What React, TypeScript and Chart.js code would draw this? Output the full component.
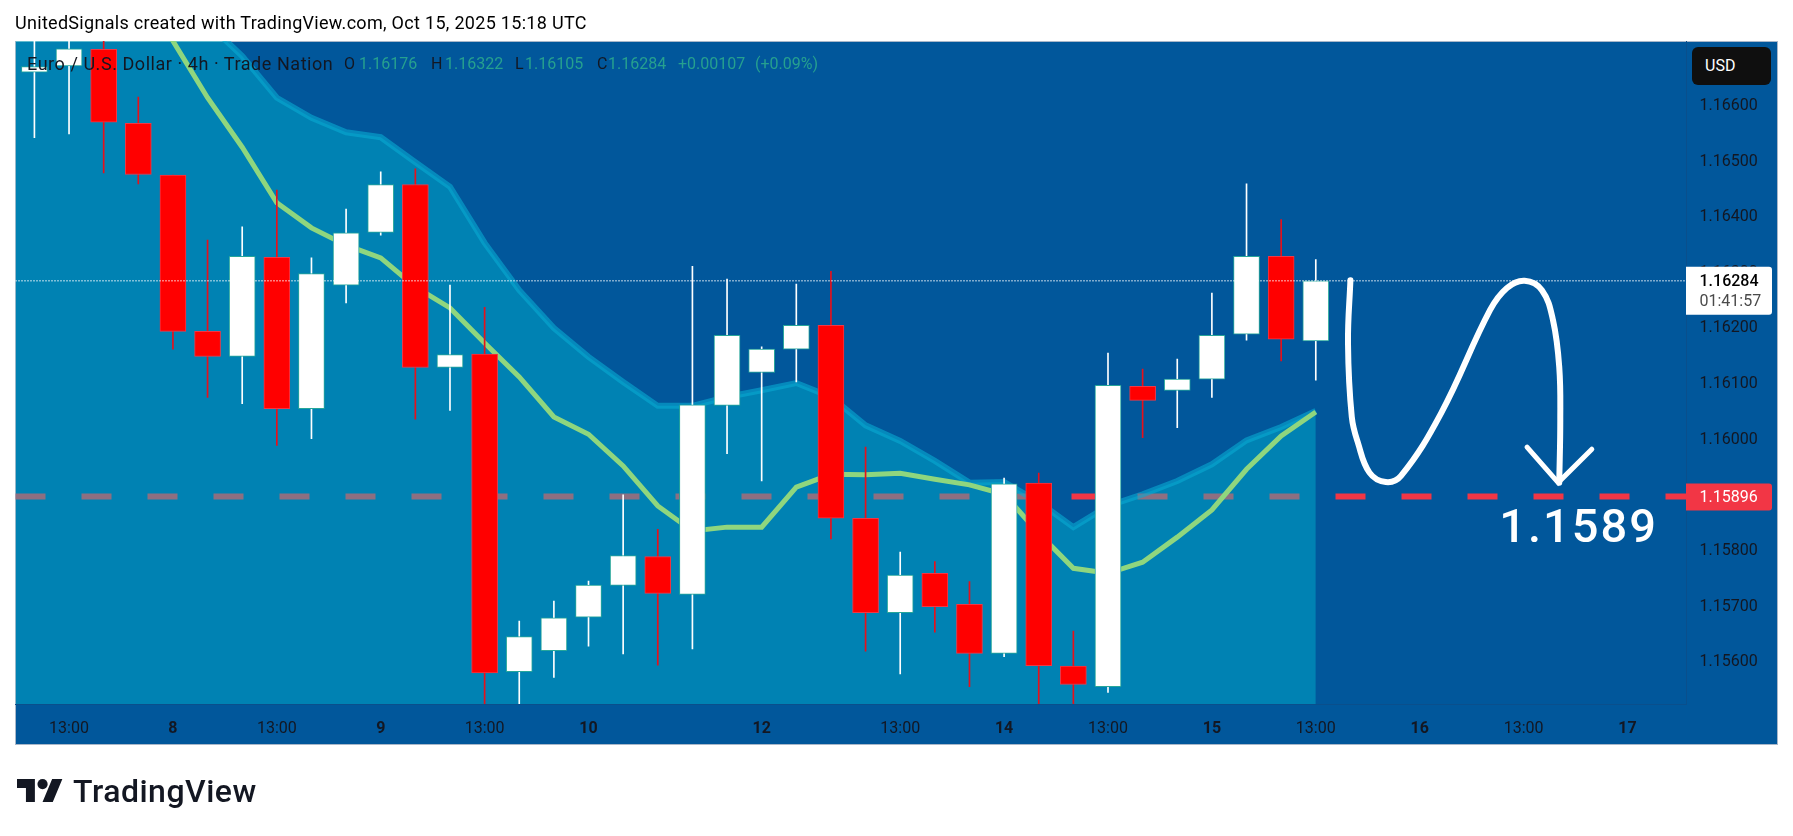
import { useEffect, useRef } from "react";
import { Chart, registerables, type ChartConfiguration, type Plugin } from "chart.js";

Chart.register(...registerables);

// 4h candles. Bar index is the x value.
const opens = [
  1.16659, 1.1667, 1.167, 1.16567, 1.16474, 1.16193, 1.16148, 1.16326, 1.16054, 1.16276,
  1.16371, 1.16457, 1.16128, 1.16152, 1.15581, 1.15619, 1.15679, 1.15736, 1.15788, 1.1572,
  1.1606, 1.16119, 1.16161, 1.16204, 1.15857, 1.15687, 1.15758, 1.15702, 1.15614, 1.1592,
  1.15591, 1.15554, 1.16094, 1.16087, 1.16107, 1.16188, 1.16328, 1.16176,
];
const highs = [
  1.168, 1.168, 1.1675, 1.16614, 1.16474, 1.16357, 1.16381, 1.16447, 1.16325, 1.16413,
  1.1648, 1.16485, 1.16276, 1.16236, 1.15672, 1.15708, 1.15744, 1.15899, 1.15837, 1.1631,
  1.16287, 1.16165, 1.16278, 1.16301, 1.15985, 1.15796, 1.15779, 1.15743, 1.15929, 1.15938,
  1.15654, 1.16154, 1.16125, 1.16143, 1.16262, 1.16458, 1.16394, 1.16322,
];
const lows = [
  1.16541, 1.16548, 1.16478, 1.16458, 1.16161, 1.16074, 1.16063, 1.15988, 1.16, 1.16244,
  1.16366, 1.16035, 1.16051, 1.1551, 1.1552, 1.15571, 1.15627, 1.15613, 1.15593, 1.15622,
  1.15973, 1.15924, 1.16102, 1.1582, 1.15618, 1.15577, 1.15652, 1.15554, 1.15608, 1.1551,
  1.1551, 1.15544, 1.16002, 1.1602, 1.16074, 1.16177, 1.1614, 1.16105,
];
const closes = [
  1.16669, 1.16701, 1.16569, 1.16475, 1.16193, 1.16148, 1.16328, 1.16054, 1.16297, 1.1637,
  1.16457, 1.16128, 1.16151, 1.15579, 1.15644, 1.15678, 1.15737, 1.1579, 1.15722, 1.16061,
  1.16186, 1.16161, 1.16204, 1.15857, 1.15687, 1.15755, 1.15698, 1.15614, 1.15919, 1.15592,
  1.15558, 1.16096, 1.16069, 1.16107, 1.16186, 1.16328, 1.16179, 1.16284,
];

// band top, first value sits one bar before the first candle
const bandTop = [
  1.171, 1.1705, 1.17, 1.1695, 1.1688, 1.16821, 1.16747, 1.16688, 1.16613, 1.16577, 1.16551,
  1.16542, 1.16497, 1.16453, 1.16352, 1.16267, 1.16199, 1.16147, 1.16102, 1.16059, 1.16059,
  1.16075, 1.16087, 1.161, 1.16075, 1.16024, 1.15996, 1.1596, 1.15921, 1.15922, 1.15886,
  1.15841, 1.15879, 1.159, 1.15924, 1.15954, 1.15997, 1.16021, 1.1605,
];
const emaLine = [
  1.1713, 1.1703, 1.1693, 1.16825, 1.16715, 1.16613, 1.16524, 1.16424, 1.16379, 1.16348,
  1.16325, 1.16273, 1.16235, 1.16172, 1.16111, 1.16039, 1.16008, 1.15951, 1.15879, 1.15834,
  1.15841, 1.15841, 1.15913, 1.15936, 1.15935, 1.15938, 1.15927, 1.15917, 1.159, 1.1583,
  1.15767, 1.15758, 1.15778, 1.15823, 1.15872, 1.15945, 1.16005, 1.16048,
];

// hand-drawn forecast
const sketchBars = [
  38.0, 37.93, 38.04, 38.22, 38.55, 39.02, 39.46, 40.62, 42.03, 42.52, 43.03,
  43.53, 43.85, 44.03, 44.06, 44.03,
];
const sketchPrices = [
  1.16285, 1.16172, 1.16039, 1.15992, 1.15939, 1.15922, 1.15933, 1.16046,
  1.16231, 1.16271, 1.16284, 1.16267, 1.16213, 1.16129, 1.16033, 1.15921,
];
const arrowBars = [43.1, 44.0, 44.97];
const arrowPrices = [1.15985, 1.15921, 1.15981];

const timeTickBars = [1, 4, 7, 10, 13, 16, 21, 25, 28, 31, 34, 37, 40, 43, 46];
const timeTickLabels = ["13:00", "8", "13:00", "9", "13:00", "10", "12", "13:00", "14", "13:00", "15", "13:00", "16", "13:00", "17"];
const priceTicks = [1.156, 1.157, 1.158, 1.159, 1.16, 1.161, 1.162, 1.163, 1.164, 1.165, 1.166];

const lastPrice = 1.16284;
const targetPrice = 1.15896;
const targetLabel = "1.1589";
const targetLabelBar = 42.3;
const targetLabelPrice = 1.15814;
const countdown = "01:41:57";

const X_MIN = -0.546;
const X_MAX = 47.69;
const Y_MIN = 1.15523;
const Y_MAX = 1.16715;

const INK = "#131722";
const BG = "#01579b";
const RED = "#f23645";
const FONT = "Roboto, sans-serif";

const ohlc = [
  { text: "O", left: 344 },
  { text: "1.16176", left: 359, up: true },
  { text: "H", left: 431 },
  { text: "1.16322", left: 445, up: true },
  { text: "L", left: 515 },
  { text: "1.16105", left: 525, up: true },
  { text: "C", left: 597 },
  { text: "1.16284", left: 608, up: true },
  { text: "+0.00107", left: 678, up: true },
  { text: "(+0.09%)", left: 755, up: true },
];

const frameAndLabels: Plugin<"bar"> = {
  id: "frameAndLabels",
  beforeDraw(chart) {
    const { ctx } = chart;
    ctx.save();
    ctx.fillStyle = BG;
    ctx.fillRect(15, 41, 1763, 704);
    ctx.strokeStyle = "#a9b7c9";
    ctx.lineWidth = 1;
    ctx.strokeRect(15.5, 41.5, 1762, 703);
    ctx.restore();
  },
  afterDraw(chart) {
    const { ctx, scales } = chart;
    const yLast = scales.y.getPixelForValue(lastPrice);
    const yTarget = scales.y.getPixelForValue(targetPrice);
    const labelX = 1699.5;

    ctx.save();
    ctx.textBaseline = "middle";

    // last price tag
    ctx.fillStyle = "#ffffff";
    ctx.beginPath();
    ctx.roundRect(1686, yLast - 14, 86, 48, [0, 3, 3, 0]);
    ctx.fill();
    ctx.fillStyle = "#000000";
    ctx.font = `500 16px ${FONT}`;
    ctx.fillText(lastPrice.toFixed(5), labelX, yLast + 1);
    ctx.fillStyle = "#4a4a4a";
    ctx.font = `400 16px ${FONT}`;
    ctx.fillText(countdown, labelX, yLast + 21);

    // target price tag
    ctx.fillStyle = RED;
    ctx.beginPath();
    ctx.roundRect(1686, yTarget - 13, 86, 27, [0, 3, 3, 0]);
    ctx.fill();
    ctx.fillStyle = "#ffffff";
    ctx.font = `400 16px ${FONT}`;
    ctx.fillText(targetPrice.toFixed(5), labelX, yTarget + 1);

    // big target text on the chart
    ctx.textBaseline = "alphabetic";
    ctx.font = `500 47px ${FONT}`;
    ctx.letterSpacing = "2px";
    ctx.fillText(targetLabel, scales.x.getPixelForValue(targetLabelBar), scales.y.getPixelForValue(targetLabelPrice));
    ctx.restore();
  },
};

export default function App() {
  const canvasRef = useRef<HTMLCanvasElement>(null);

  useEffect(() => {
    if (!canvasRef.current) return;

    const isUp = (i: number) => closes[i] >= opens[i];

    const config: ChartConfiguration<"bar"> = {
      type: "bar",
      data: {
        datasets: [
          {
            type: "line",
            label: "Sketch",
            data: sketchBars.map((x, i) => ({ x, y: sketchPrices[i] })),
            borderColor: "#ffffff",
            borderWidth: 6,
            pointRadius: 0,
            tension: 0.4,
            borderCapStyle: "round",
            order: 0,
          },
          {
            type: "line",
            label: "Arrow",
            data: arrowBars.map((x, i) => ({ x, y: arrowPrices[i] })),
            borderColor: "#ffffff",
            borderWidth: 5,
            pointRadius: 0,
            borderCapStyle: "round",
            order: 0,
          },
          {
            type: "line",
            label: "Last",
            data: [
              { x: X_MIN, y: lastPrice },
              { x: X_MAX, y: lastPrice },
            ],
            borderColor: "#ffffff",
            borderWidth: 1.5,
            borderDash: [1, 2],
            pointRadius: 0,
            order: 1,
          },
          {
            label: "Body",
            data: opens.map((o, i) => ({ x: i, y: [o, closes[i]] })),
            backgroundColor: (c) => (isUp(c.dataIndex) ? "#ffffff" : "#ff0000"),
            borderColor: (c) => (isUp(c.dataIndex) ? "#26a69a" : RED),
            borderWidth: 1,
            borderSkipped: false,
            barThickness: 26,
            grouped: false,
            order: 2,
          },
          {
            label: "Wick",
            data: highs.map((h, i) => ({ x: i, y: [lows[i], h] })),
            backgroundColor: (c) => (isUp(c.dataIndex) ? "#ffffff" : "#e8101a"),
            borderWidth: 0,
            barThickness: 1,
            grouped: false,
            order: 3,
          },
          {
            type: "line",
            label: "EMA",
            data: emaLine.map((y, i) => ({ x: i, y })),
            borderColor: "#8fd67e",
            borderWidth: 5,
            pointRadius: 0,
            order: 4,
          },
          {
            type: "line",
            label: "Band",
            data: bandTop.map((y, i) => ({ x: i - 1, y })),
            borderColor: "rgba(8,170,210,0.6)",
            backgroundColor: "rgba(0,192,213,0.417)",
            borderWidth: 6,
            pointRadius: 0,
            fill: "start",
            order: 5,
          },
          {
            type: "line",
            label: "Target",
            data: [
              { x: X_MIN, y: targetPrice },
              { x: X_MAX, y: targetPrice },
            ],
            borderColor: RED,
            borderWidth: 6,
            borderDash: [30, 36],
            pointRadius: 0,
            order: 6,
          },
        ] as any,
      },
      options: {
        responsive: false,
        animation: false,
        layout: { padding: { left: 15.5, top: 41, right: 15, bottom: 91 } },
        plugins: { legend: { display: false }, tooltip: { enabled: false } },
        scales: {
          x: {
            type: "linear",
            offset: false,
            min: X_MIN,
            max: X_MAX,
            afterBuildTicks: (scale) => {
              scale.ticks = timeTickBars.map((value) => ({ value }));
            },
            afterFit: (scale) => {
              scale.height = 41;
            },
            grid: { display: false, drawTicks: false },
            border: { color: "#0a4f8c" },
            ticks: {
              autoSkip: false,
              maxRotation: 0,
              padding: 15,
              color: INK,
              font: (c) => ({
                family: FONT,
                size: 16,
                weight: timeTickLabels[timeTickBars.indexOf(c.tick?.value)] === "13:00" ? 400 : 700,
              }),
              callback: (value) => timeTickLabels[timeTickBars.indexOf(Number(value))],
            },
          },
          y: {
            position: "right",
            min: Y_MIN,
            max: Y_MAX,
            afterBuildTicks: (scale) => {
              scale.ticks = priceTicks.map((value) => ({ value }));
            },
            afterFit: (scale) => {
              scale.width = 92;
            },
            grid: { display: false, drawTicks: false },
            border: { color: "#0a4f8c" },
            ticks: {
              autoSkip: false,
              padding: 13.5,
              labelOffset: 1,
              color: INK,
              font: { family: FONT, size: 16 },
              callback: (value) => Number(value).toFixed(5),
            },
          },
        },
      },
      plugins: [frameAndLabels],
    };

    const chart = new Chart(canvasRef.current, config);
    return () => chart.destroy();
  }, []);

  return (
    <div style={{ position: "absolute", left: 0, top: 0, width: 1793, height: 836, background: "#fff", overflow: "hidden", fontFamily: FONT, color: INK }}>
      <canvas ref={canvasRef} width={1793} height={836} style={{ display: "block" }} />

      <div style={{ position: "absolute", left: 15, top: 12, fontSize: 18, lineHeight: "22px", whiteSpace: "nowrap", color: "#000", letterSpacing: 0.3 }}>
        UnitedSignals created with TradingView.com, Oct 15, 2025 15:18 UTC
      </div>

      <div style={{ position: "absolute", left: 27, top: 53, fontSize: 18, lineHeight: "22px", whiteSpace: "nowrap", letterSpacing: 0.55 }}>
        Euro / U.S. Dollar · 4h · Trade Nation
      </div>
      {ohlc.map((item) => (
        <span
          key={item.left}
          style={{ position: "absolute", left: item.left, top: 53, fontSize: 16, lineHeight: "22px", color: item.up ? "#26a08f" : INK }}
        >
          {item.text}
        </span>
      ))}

      <div style={{ position: "absolute", left: 1692, top: 47, width: 79, height: 38, borderRadius: 6, background: "#0f0f0f", color: "#fff", fontSize: 16, lineHeight: "38px", paddingLeft: 13, boxSizing: "border-box" }}>
        USD
      </div>

      <svg style={{ position: "absolute", left: 17, top: 779 }} width={46} height={23} viewBox="0 4 36 18">
        <path d="M14 22H7V11H0V4h14v18zM28 22h-8l7.5-18h8L28 22z" fill="#131722" />
        <circle cx="20" cy="8" r="4" fill="#131722" />
      </svg>
      <div style={{ position: "absolute", left: 73, top: 772, fontSize: 32, fontWeight: 500, lineHeight: "38px", color: "#131722", letterSpacing: 0.5 }}>
        TradingView
      </div>
    </div>
  );
}
